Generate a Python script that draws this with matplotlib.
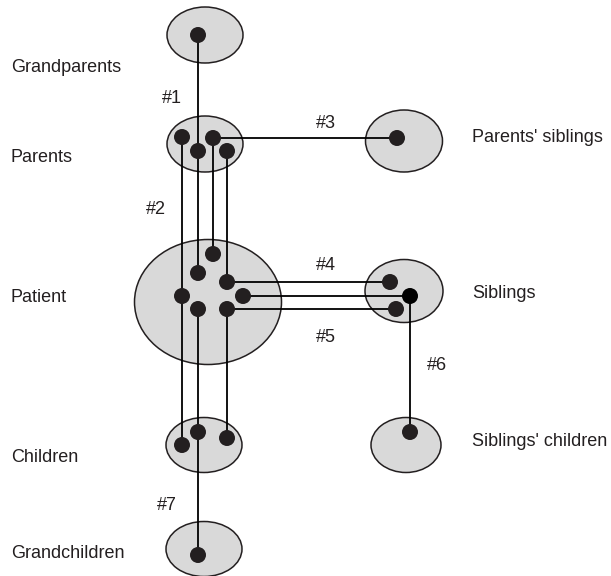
import matplotlib
matplotlib.use("Agg")
import matplotlib.pyplot as plt
from matplotlib.patches import Ellipse, Circle

# generation groups: centre and size (canvas pixels, y down)
group_x = [205, 205, 208, 204, 204, 404, 404, 406]
group_y = [35, 144, 302, 445, 549, 141, 291, 445]
group_w = [76, 76, 147, 76, 76, 77, 78, 70]
group_h = [56, 56, 125, 55, 55, 62, 63, 55]

# individuals (dots)
dot_ids = ["gp1", "p1", "p2", "p3", "p4",
           "x1", "x2", "x3", "x4", "x5", "x6", "x7",
           "c1", "c2", "c3", "g1", "ps1", "s1", "s2", "s3", "sc1"]
dot_x = [198, 182, 198, 213, 227,
         213, 198, 227, 182, 243, 198, 227,
         182, 198, 227, 198, 397, 390, 410, 396, 410]
dot_y = [35, 137, 151, 138, 151,
         254, 273, 282, 296, 296, 309, 309,
         445, 432, 438, 555, 138, 282, 296, 309, 432]
black_dots = ["s2"]

# relationships drawn as straight links between dots
links = [("gp1", "p2"), ("p2", "x2"), ("p1", "x4"), ("x4", "c1"),
         ("p3", "x1"), ("p4", "x3"), ("p3", "ps1"),
         ("x3", "s1"), ("x5", "s2"), ("x7", "s3"), ("s2", "sc1"),
         ("x6", "c2"), ("c2", "g1"), ("x7", "c3")]

row_labels = ["Grandparents", "Parents", "Patient", "Children", "Grandchildren"]
row_label_y = [71.5, 162.5, 302.5, 462, 557.5]
side_labels = ["Parents' siblings", "Siblings", "Siblings' children"]
side_label_y = [142.5, 298, 446]
tags = ["#1", "#2", "#3", "#4", "#5", "#6", "#7"]
tag_x = [162, 146, 316, 316, 316, 427, 157]
tag_y = [103, 213.5, 128, 270, 342, 370, 510]

FILL = "#d9d9d9"
INK = "#231f20"
FONT = ["Liberation Sans", "DejaVu Sans"]
FS = 13

fig = plt.figure(figsize=(6.11, 5.76), dpi=100)
ax = fig.add_axes([0, 0, 1, 1])
ax.set_xlim(0, 611)
ax.set_ylim(576, 0)
ax.axis("off")

for gx, gy, gw, gh in zip(group_x, group_y, group_w, group_h):
    ax.add_patch(Ellipse((gx, gy), gw, gh, facecolor=FILL, edgecolor=INK,
                         linewidth=1.1, zorder=1))

pos = {d: (x, y) for d, x, y in zip(dot_ids, dot_x, dot_y)}
for a, b in links:
    (xa, ya), (xb, yb) = pos[a], pos[b]
    ax.plot([xa, xb], [ya, yb], color="black", linewidth=1.3,
            solid_capstyle="butt", zorder=2)

for d, x, y in zip(dot_ids, dot_x, dot_y):
    col = "black" if d in black_dots else INK
    ax.add_patch(Circle((x, y), 8, facecolor=col, edgecolor="none", zorder=3))

for lab, y in zip(row_labels, row_label_y):
    ax.text(11, y, lab, fontsize=FS, family=FONT, color=INK, va="baseline", ha="left")
for lab, y in zip(side_labels, side_label_y):
    ax.text(472, y, lab, fontsize=FS, family=FONT, color=INK, va="baseline", ha="left")
for t, x, y in zip(tags, tag_x, tag_y):
    ax.text(x, y, t, fontsize=FS, family=FONT, color=INK, va="baseline", ha="left")

fig.savefig("out.png", dpi=100, facecolor="white")
